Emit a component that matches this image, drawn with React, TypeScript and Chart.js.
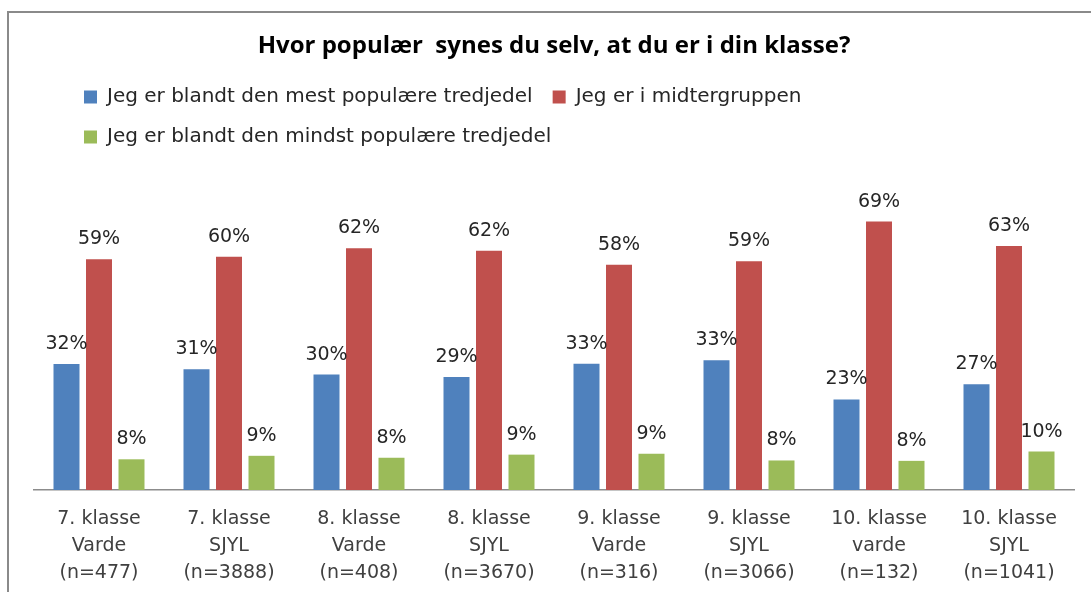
import React, { useEffect, useRef } from 'react';
import { Chart, registerables } from 'chart.js';

Chart.register(...registerables);

const titleText = 'Hvor populær  synes du selv, at du er i din klasse?';

const categories: string[][] = [
  ['7. klasse', 'Varde', '(n=477)'],
  ['7. klasse', 'SJYL', '(n=3888)'],
  ['8. klasse', 'Varde', '(n=408)'],
  ['8. klasse', 'SJYL', '(n=3670)'],
  ['9. klasse', 'Varde', '(n=316)'],
  ['9. klasse', 'SJYL', '(n=3066)'],
  ['10. klasse', 'varde', '(n=132)'],
  ['10. klasse', 'SJYL', '(n=1041)'],
];

const seriesNames = [
  'Jeg er blandt den mest populære tredjedel',
  'Jeg er i midtergruppen',
  'Jeg er blandt den mindst populære tredjedel',
];

const mestPopulaer = [32.4, 31.1, 29.7, 29.1, 32.5, 33.4, 23.3, 27.2];
const midtergruppen = [59.4, 60.0, 62.2, 61.6, 58.0, 58.9, 69.1, 62.8];
const mindstPopulaer = [7.9, 8.8, 8.3, 9.1, 9.3, 7.6, 7.5, 9.9];

const seriesColors = ['#4F81BD', '#C0504D', '#9BBB59'];

const TITLE_FONT = "'Open Sans', sans-serif";
const FONT = "'DejaVu Sans', sans-serif";

const framePlugin = {
  id: 'frame',
  beforeDraw(chart: any) {
    const ctx = chart.ctx;
    ctx.save();
    ctx.fillStyle = '#ffffff';
    ctx.fillRect(0, 0, chart.width, chart.height);
    ctx.strokeStyle = '#8a8a8a';
    ctx.lineWidth = 2;
    ctx.strokeRect(8, 12, 3000, 3000);
    ctx.restore();
  },
};

const legendShiftPlugin = {
  id: 'legendShift',
  afterLayout(chart: any) {
    if (chart.legend) {
      chart.legend.left += 30;
    }
  },
};

const valueLabelPlugin = {
  id: 'valueLabels',
  afterDatasetsDraw(chart: any) {
    const ctx = chart.ctx;
    ctx.save();
    ctx.font = `19px ${FONT}`;
    ctx.fillStyle = '#262626';
    ctx.textAlign = 'center';
    ctx.textBaseline = 'alphabetic';
    chart.data.datasets.forEach((ds: any, di: number) => {
      const meta = chart.getDatasetMeta(di);
      meta.data.forEach((bar: any, i: number) => {
        const v = ds.data[i] as number;
        ctx.fillText(`${Math.round(v)}%`, bar.x, bar.y - 15);
      });
    });
    ctx.restore();
  },
};

export default function App() {
  const canvasRef = useRef<HTMLCanvasElement | null>(null);

  useEffect(() => {
    if (!canvasRef.current) return;
    const chart = new Chart(canvasRef.current, {
      type: 'bar',
      data: {
        labels: categories,
        datasets: [
          { label: seriesNames[0], data: mestPopulaer, backgroundColor: seriesColors[0] },
          { label: seriesNames[1], data: midtergruppen, backgroundColor: seriesColors[1] },
          { label: seriesNames[2], data: mindstPopulaer, backgroundColor: seriesColors[2] },
        ],
      },
      options: {
        responsive: false,
        animation: false,
        devicePixelRatio: 1,
        layout: { padding: { left: 34, right: 17, top: 0, bottom: 6 } },
        datasets: {
          bar: { barPercentage: 0.8, categoryPercentage: 0.75 },
        },
        plugins: {
          title: {
            display: true,
            text: titleText,
            color: '#000000',
            font: { family: TITLE_FONT, size: 24, weight: 'bold', lineHeight: 1.2 },
            padding: { top: 31.6, bottom: 6.6 },
          },
          legend: {
            display: true,
            position: 'top',
            align: 'start',
            labels: {
              boxWidth: 13,
              boxHeight: 13,
              padding: 20,
              color: '#262626',
              font: { family: FONT, size: 20 },
            },
          },
          tooltip: { enabled: false },
        },
        scales: {
          x: {
            grid: { display: false, drawTicks: false },
            border: { display: true, color: '#8c8c8c', width: 1.5 },
            ticks: {
              color: '#404040',
              font: { family: FONT, size: 19, lineHeight: 27 / 19 },
              padding: 16,
              maxRotation: 0,
              autoSkip: false,
            },
          },
          y: {
            display: false,
            min: 0,
            max: 85.7,
          },
        },
      },
      plugins: [framePlugin, legendShiftPlugin, valueLabelPlugin],
    } as any);
    return () => {
      chart.destroy();
    };
  }, []);

  return (
    <div
      style={{
        position: 'fixed',
        left: 0,
        top: 0,
        width: 1091,
        height: 592,
        overflow: 'hidden',
        background: '#ffffff',
      }}
    >
      <canvas ref={canvasRef} width={1091} height={609} style={{ display: 'block' }} />
    </div>
  );
}
